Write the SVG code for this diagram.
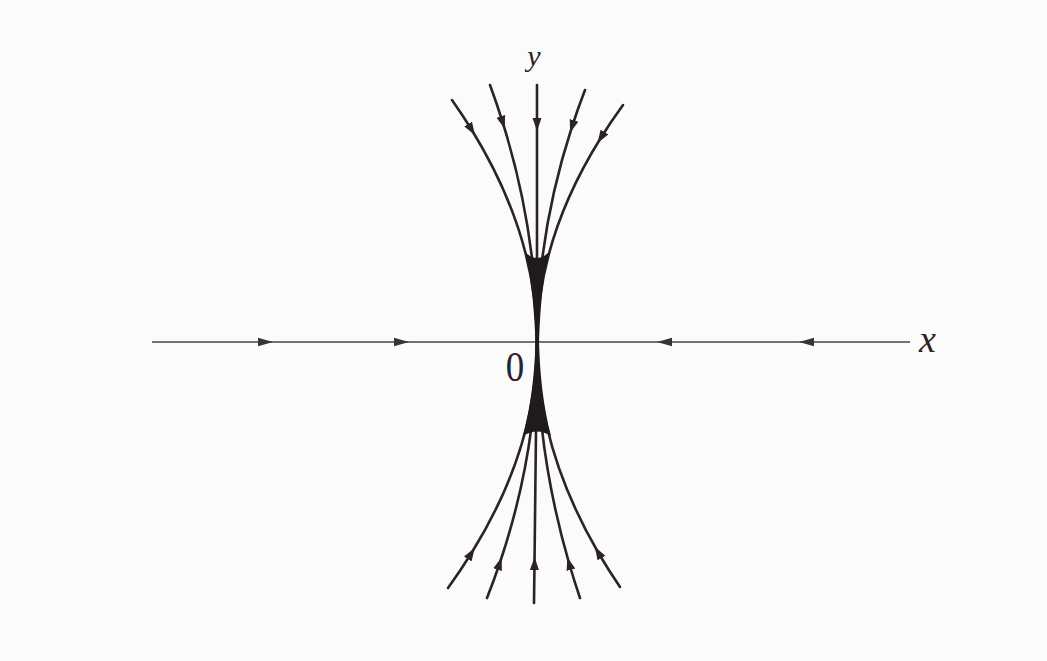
<svg xmlns="http://www.w3.org/2000/svg" width="1047" height="661" viewBox="0 0 1047 661">
<style>
.traj{fill:none;stroke:#2b2327;stroke-width:2.6;stroke-linecap:round;marker-mid:url(#ah)}
.axis{fill:none;stroke:#4a4446;stroke-width:1.3;marker-mid:url(#ahs)}
.lbl{font-family:"Liberation Serif",serif;fill:#2b2327}
.wedge{fill:#1f1a1c;stroke:none}
</style>
<defs>
<marker id="ah" markerUnits="userSpaceOnUse" markerWidth="14" markerHeight="10" viewBox="0 0 14 10" refX="7" refY="5" orient="auto">
<path d="M0,0.5 L13,5 L0,9.5 Z" fill="#2b2327"/>
</marker>
<marker id="ahs" markerUnits="userSpaceOnUse" markerWidth="16" markerHeight="10" viewBox="0 0 16 10" refX="8" refY="5" orient="auto">
<path d="M0,0.8 L15,5 L0,9.2 Z" fill="#3a3336"/>
</marker>
</defs>
<rect x="0" y="0" width="1047" height="661" fill="#fbfbfb"/>
<g id="connectors">
<path class="axis" d="M152,342 L266,342 L402,342 L537,342"/>
<path class="axis" d="M910,342 L806,342 L664,342 L537,342"/>
<path class="traj" d="M452,100 Q462.5,115 471.8,130 Q537,236 537,342"/>
<path class="traj" d="M490,85 Q497,104 502.9,123 Q537,232.5 537,342"/>
<path class="traj" d="M537,85 L537,125 L537,342"/>
<path class="traj" d="M585,90 Q577.9,108.5 571.9,127 Q537,234.5 537,342"/>
<path class="traj" d="M623,105 Q611,121.5 600.7,138 Q537,240 537,342"/>
<path class="traj" d="M448,588 Q460.6,570.5 471.5,553 Q537,447.5 537,342"/>
<path class="traj" d="M487,598 Q493.9,580.5 499.8,563 Q537,452.5 537,342"/>
<path class="traj" d="M534,603 L534.5,563 L537,342"/>
<path class="traj" d="M580,598 Q574.1,580.5 569,563 Q537,452.5 537,342"/>
<path class="traj" d="M620,587 Q608.1,569.5 597.9,552 Q537,447 537,342"/>
</g>
<g id="node-origin">
<path class="wedge" d="M525,252 C532,280 534.5,315 535.5,342 L539,342 C540,315 542,280 549,252 Q537,264 525,252 Z"/>
<path class="wedge" d="M535.5,342 C534.5,375 531,405 523,436 Q537,427 551,436 C543,405 540,375 539,342 Z"/>
<text class="lbl" x="0" y="381" font-size="42" text-anchor="middle" transform="translate(515,0) scale(0.88,1)">0</text>
</g>
<g id="label-y">
<text class="lbl" x="534" y="66" font-size="30" font-style="italic" text-anchor="middle">y</text>
</g>
<g id="label-x">
<text class="lbl" x="919" y="352" font-size="38" font-style="italic">x</text>
</g>
</svg>
